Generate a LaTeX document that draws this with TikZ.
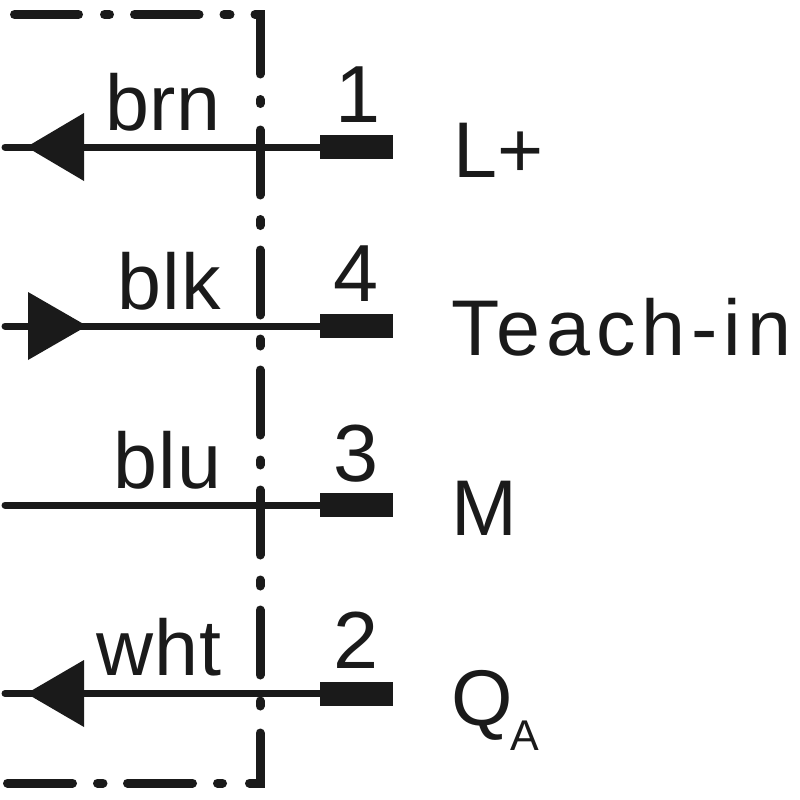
\documentclass[tikz,border=0pt]{standalone}
\usepackage{fontspec}
\setmainfont{Liberation Sans}
\definecolor{ink}{HTML}{1A1A1A}
\tikzset{
  x=1pt,y=-1pt,
  border/.style={draw=ink,line width=9pt,line cap=round},
  wire/.style={draw=ink,line width=7pt,line cap=round},
  terminal/.style={fill=ink,minimum width=73pt,minimum height=24pt,inner sep=0pt,anchor=west},
  head/.style={fill=ink,draw=none},
  txt/.style={inner sep=0pt,anchor=base west,text=ink,font=\fontsize{79}{79}\selectfont},
  pin/.style={txt,font=\fontsize{81}{81}\selectfont}
}
\begin{document}
\begin{tikzpicture}
\useasboundingbox (0,0) rectangle (800,800);
% boundary
\foreach \a/\b in {14.5/78.5,104.5/109.5,134.5/199,224/230}
  \draw[border] (\a,14.5) -- (\b,14.5);
\draw[border] (255,14.5) -- (260,14.5);
\fill[ink] (255.5,10) rectangle (264.5,19);
\foreach \a/\b in {15/74,99.5/103.5,130/195,219.5/225.5,250/315,339/346,370/435,460/465,490/555,580/586,610/675,701/706,733/779}
  \draw[border] (260,\a) -- (260,\b);
\draw[border] (249.5,783) -- (260,783);
\fill[ink] (255.5,778.5) rectangle (264.5,787.5);
\foreach \a/\b in {7.5/72.5,97.5/103,127.5/192.5,217.5/222.5}
  \draw[border] (\a,783) -- (\b,783);
% terminals
\node[terminal] (t1) at (320,147) {};
\node[terminal] (t4) at (320,326) {};
\node[terminal] (t3) at (320,505) {};
\node[terminal] (t2) at (320,693.5) {};
% free ends
\coordinate (e1) at (5,147);
\coordinate (e4) at (5,326);
\coordinate (e3) at (5,505);
\coordinate (e2) at (5,693.5);
\draw[wire] (e1) -- (t1.west);
\draw[wire] (e4) -- (t4.west);
\draw[wire] (e3) -- (t3.west);
\draw[wire] (e2) -- (t2.west);
% arrowheads
\fill[head] (26.5,147) -- (84,113) -- (84,181) -- cycle;
\fill[head] (87,326) -- (28,292) -- (28,360) -- cycle;
\fill[head] (26.5,693.5) -- (84,660) -- (84,727) -- cycle;
% wire labels
\node[txt] (brn) at (105,130) {\addfontfeature{LetterSpace=1}brn};
\node[txt] (blk) at (117,309) {\addfontfeature{LetterSpace=2}blk};
\node[txt] (blu) at (113,488) {\addfontfeature{LetterSpace=1.5}blu};
\node[txt] (wht) at (96,675) {\addfontfeature{LetterSpace=1.5}wht};
% pin numbers
\node[pin] (n1) at (335,122) {1};
\node[pin] (n4) at (333,301) {4};
\node[pin] (n3) at (333,481) {3};
\node[pin] (n2) at (333,668) {2};
% signal names
\node[txt] (lplus) at (453,177) {L+};
\node[txt] (teach) at (451,355) {\addfontfeature{LetterSpace=7.5}Teach-in};
\node[txt] (m) at (451,535) {M};
\node[txt] (q) at (451,725) {Q};
\node[txt,font=\fontsize{43}{43}\selectfont] (a) at (510,750) {A};
\end{tikzpicture}
\end{document}
